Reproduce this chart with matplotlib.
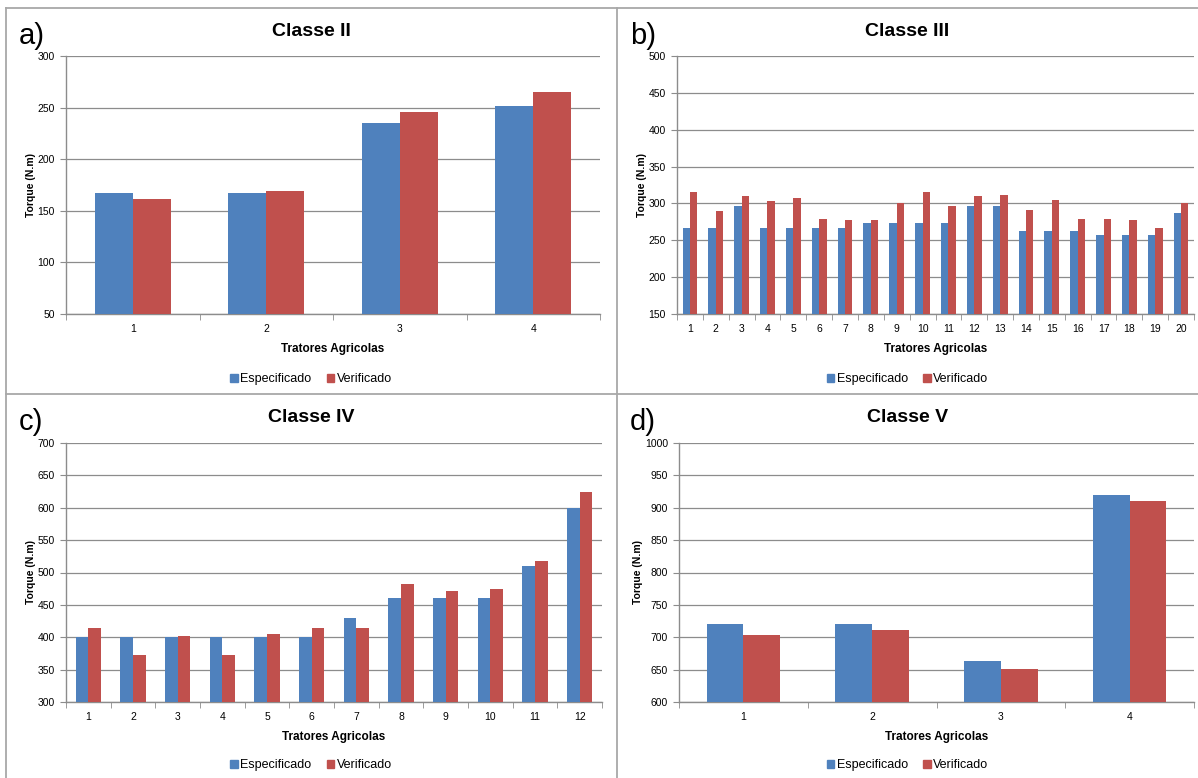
import numpy as np
import matplotlib
matplotlib.use("Agg")
import matplotlib.pyplot as plt
from matplotlib.patches import Patch
from matplotlib.lines import Line2D

plt.rcParams['font.family'] = ['Liberation Sans', 'DejaVu Sans']

W, H = 1198, 778

# torque per tractor class (N.m)
c2_esp = [167, 167, 235, 252]
c2_ver = [161, 169, 246, 265]

c3_esp = [267, 267, 296, 267, 267, 267, 267, 274, 274, 274,
          274, 296, 296, 263, 263, 263, 257, 257, 257, 287]
c3_ver = [315, 290, 310, 303, 308, 279, 277, 278, 300, 315,
          296, 310, 311, 291, 305, 279, 279, 277, 266, 300]

c4_esp = [400, 400, 400, 400, 400, 400, 430, 460, 460, 460, 510, 600]
c4_ver = [415, 372, 402, 372, 405, 415, 415, 483, 472, 475, 517, 625]

c5_esp = [720, 720, 663, 920]
c5_ver = [704, 711, 651, 910]

titles = ['Classe II', 'Classe III', 'Classe IV', 'Classe V']
letters = ['a)', 'b)', 'c)', 'd)']
ylims = [(50, 300), (150, 500), (300, 700), (600, 1000)]
ystep = 50
series_names = ['Especificado', 'Verificado']

BLUE = '#4F81BD'
RED = '#C0504D'
GRID = '#8c8c8c'


def px(x0, y0, x1, y1):
    return [x0 / W, 1 - y1 / H, (x1 - x0) / W, (y1 - y0) / H]


fig = plt.figure(figsize=(W / 100, H / 100), dpi=100)
fig.patch.set_facecolor('white')

# panel frames
for xs, ys in [((6, 6), (8, 778)), ((6, 1198), (8, 8)),
               ((616.5, 616.5), (8, 778)), ((6, 1198), (394, 394))]:
    fig.add_artist(Line2D([x / W for x in xs], [1 - y / H for y in ys],
                          color='#a8a8a8', lw=1.3, transform=fig.transFigure))

axes_px = [(66, 56, 600, 314), (677, 56, 1194, 314),
           (66, 443, 602, 702), (679, 443, 1194, 702)]
panels = [(6, 8, 616, 394), (617, 8, 1198, 394),
          (6, 394, 616, 778), (617, 394, 1198, 778)]
data = [(c2_esp, c2_ver), (c3_esp, c3_ver), (c4_esp, c4_ver), (c5_esp, c5_ver)]

for i in range(4):
    esp, ver = data[i]
    n = len(esp)
    x = np.arange(n)
    w = 1 / 3.5
    ax = fig.add_axes(px(*axes_px[i]))
    ax.bar(x - w / 2, esp, w, color=BLUE, zorder=3)
    ax.bar(x + w / 2, ver, w, color=RED, zorder=3)
    ax.set_xlim(-0.5, n - 0.5)
    lo, hi = ylims[i]
    ax.set_ylim(lo, hi)
    ax.set_yticks(np.arange(lo, hi + 1, ystep))
    ax.yaxis.grid(True, color=GRID, lw=0.9, zorder=0)
    ax.set_xticks(x)
    ax.set_xticklabels([str(k + 1) for k in x])
    ax.set_xticks(np.arange(n + 1) - 0.5, minor=True)
    ax.tick_params(axis='x', which='major', length=0, pad=7, labelsize=7.5)
    ax.tick_params(axis='x', which='minor', length=4, color=GRID, direction='out')
    ax.tick_params(axis='y', length=4, color=GRID, direction='out', pad=4, labelsize=7.5)
    for s in ['top', 'right']:
        ax.spines[s].set_visible(False)
    for s in ['left', 'bottom']:
        ax.spines[s].set_color(GRID)
        ax.spines[s].set_linewidth(1.0)
    ax.set_ylabel('Torque (N.m)', fontsize=7.5, fontweight='bold', labelpad=1)
    ax.set_xlabel('Tratores Agricolas', fontsize=8.5, fontweight='bold', labelpad=7)

    px0, py0, px1, py1 = panels[i]
    cx = (px0 + px1) / 2
    fig.text(cx / W, 1 - (py0 + 23) / H, titles[i], ha='center', va='center',
             fontsize=14, fontweight='bold')
    fig.text((px0 + 13) / W, 1 - (py0 + 28) / H, letters[i], ha='left', va='center',
             fontsize=21)
    handles = [Patch(color=BLUE), Patch(color=RED)]
    fig.legend(handles, series_names, loc='center',
               bbox_to_anchor=(cx / W, 1 - (py0 + 371) / H),
               ncol=2, frameon=False, fontsize=9, handlelength=0.6, handleheight=0.6,
               handletextpad=0.2, columnspacing=1.2)

fig.savefig('out.png', dpi=100, facecolor='white')
